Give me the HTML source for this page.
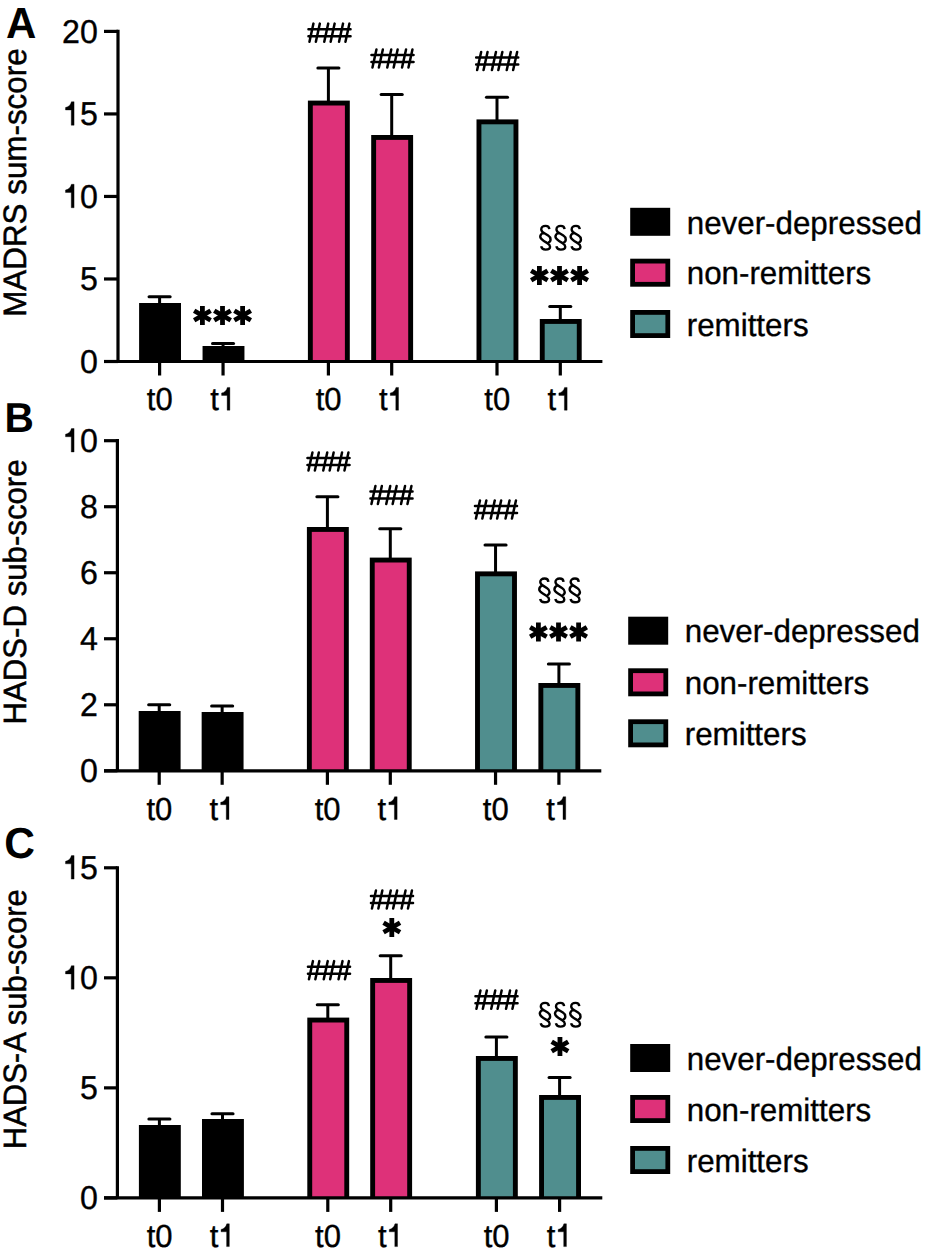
<!DOCTYPE html>
<html><head><meta charset="utf-8"><style>
html,body{margin:0;padding:0;background:#fff;}
svg{display:block;}
text{font-family:"Liberation Sans",sans-serif;fill:#000;text-rendering:geometricPrecision;}
</style></head><body>
<svg width="930" height="1253" viewBox="0 0 930 1253">
<rect width="930" height="1253" fill="#fff"/>
<line x1="118.00" y1="29.80" x2="118.00" y2="361.50" stroke="#000" stroke-width="3.2"/>
<line x1="104.00" y1="361.50" x2="118.00" y2="361.50" stroke="#000" stroke-width="3.2"/>
<text transform="translate(80.01,372.80) scale(0.975,1)" font-size="33.0" stroke="#000" stroke-width="0.35">0</text>
<line x1="104.00" y1="278.98" x2="118.00" y2="278.98" stroke="#000" stroke-width="3.2"/>
<text transform="translate(80.01,290.28) scale(0.975,1)" font-size="33.0" stroke="#000" stroke-width="0.35">5</text>
<line x1="104.00" y1="196.45" x2="118.00" y2="196.45" stroke="#000" stroke-width="3.2"/>
<path transform="translate(62.11,207.75) scale(32.175,-33.000)" d="M0.372,0 L0.284,0 L0.284,0.462 L0.105,0.462 L0.105,0.538 C0.2,0.555 0.262,0.61 0.29,0.712 L0.372,0.712 Z" stroke="#000" stroke-width="0.0106"/>
<text transform="translate(80.01,207.75) scale(0.975,1)" font-size="33.0" stroke="#000" stroke-width="0.35">0</text>
<line x1="104.00" y1="113.93" x2="118.00" y2="113.93" stroke="#000" stroke-width="3.2"/>
<path transform="translate(62.11,125.23) scale(32.175,-33.000)" d="M0.372,0 L0.284,0 L0.284,0.462 L0.105,0.462 L0.105,0.538 C0.2,0.555 0.262,0.61 0.29,0.712 L0.372,0.712 Z" stroke="#000" stroke-width="0.0106"/>
<text transform="translate(80.01,125.23) scale(0.975,1)" font-size="33.0" stroke="#000" stroke-width="0.35">5</text>
<line x1="104.00" y1="31.40" x2="118.00" y2="31.40" stroke="#000" stroke-width="3.2"/>
<text transform="translate(62.11,42.70) scale(0.975,1)" font-size="33.0" stroke="#000" stroke-width="0.35">2</text>
<text transform="translate(80.01,42.70) scale(0.975,1)" font-size="33.0" stroke="#000" stroke-width="0.35">0</text>
<line x1="159.60" y1="296.70" x2="159.60" y2="304.00" stroke="#000" stroke-width="3.0"/>
<line x1="149.10" y1="296.70" x2="170.10" y2="296.70" stroke="#000" stroke-width="3.1" stroke-linecap="round"/>
<rect x="139.10" y="303.00" width="41.90" height="58.50" fill="#000"/>
<line x1="159.60" y1="361.50" x2="159.60" y2="375.50" stroke="#000" stroke-width="3.2"/>
<text transform="translate(146.86,410.20) scale(0.97,1)" font-size="32.0" stroke="#000" stroke-width="0.35">t</text>
<text transform="translate(155.48,410.20) scale(0.97,1)" font-size="32.0" stroke="#000" stroke-width="0.35">0</text>
<line x1="223.05" y1="343.50" x2="223.05" y2="347.00" stroke="#000" stroke-width="3.0"/>
<line x1="212.55" y1="343.50" x2="233.55" y2="343.50" stroke="#000" stroke-width="3.1" stroke-linecap="round"/>
<rect x="202.55" y="346.00" width="41.90" height="15.50" fill="#000"/>
<line x1="223.05" y1="361.50" x2="223.05" y2="375.50" stroke="#000" stroke-width="3.2"/>
<text transform="translate(210.31,410.20) scale(0.97,1)" font-size="32.0" stroke="#000" stroke-width="0.35">t</text>
<path transform="translate(218.33,410.20) scale(31.040,-32.000)" d="M0.372,0 L0.284,0 L0.284,0.462 L0.105,0.462 L0.105,0.538 C0.2,0.555 0.262,0.61 0.29,0.712 L0.372,0.712 Z" stroke="#000" stroke-width="0.0109"/>
<line x1="328.40" y1="68.00" x2="328.40" y2="101.60" stroke="#000" stroke-width="3.0"/>
<line x1="317.90" y1="68.00" x2="338.90" y2="68.00" stroke="#000" stroke-width="3.1" stroke-linecap="round"/>
<rect x="307.90" y="100.60" width="41.90" height="260.90" fill="#000"/>
<rect x="312.80" y="105.50" width="32.10" height="256.00" fill="#de3179"/>
<line x1="328.40" y1="361.50" x2="328.40" y2="375.50" stroke="#000" stroke-width="3.2"/>
<text transform="translate(315.66,410.20) scale(0.97,1)" font-size="32.0" stroke="#000" stroke-width="0.35">t</text>
<text transform="translate(324.28,410.20) scale(0.97,1)" font-size="32.0" stroke="#000" stroke-width="0.35">0</text>
<line x1="391.70" y1="94.50" x2="391.70" y2="136.00" stroke="#000" stroke-width="3.0"/>
<line x1="381.20" y1="94.50" x2="402.20" y2="94.50" stroke="#000" stroke-width="3.1" stroke-linecap="round"/>
<rect x="371.20" y="135.00" width="41.90" height="226.50" fill="#000"/>
<rect x="376.10" y="139.90" width="32.10" height="221.60" fill="#de3179"/>
<line x1="391.70" y1="361.50" x2="391.70" y2="375.50" stroke="#000" stroke-width="3.2"/>
<text transform="translate(378.96,410.20) scale(0.97,1)" font-size="32.0" stroke="#000" stroke-width="0.35">t</text>
<path transform="translate(386.98,410.20) scale(31.040,-32.000)" d="M0.372,0 L0.284,0 L0.284,0.462 L0.105,0.462 L0.105,0.538 C0.2,0.555 0.262,0.61 0.29,0.712 L0.372,0.712 Z" stroke="#000" stroke-width="0.0109"/>
<line x1="497.00" y1="97.30" x2="497.00" y2="120.40" stroke="#000" stroke-width="3.0"/>
<line x1="486.50" y1="97.30" x2="507.50" y2="97.30" stroke="#000" stroke-width="3.1" stroke-linecap="round"/>
<rect x="476.50" y="119.40" width="41.90" height="242.10" fill="#000"/>
<rect x="481.40" y="124.30" width="32.10" height="237.20" fill="#508e8e"/>
<line x1="497.00" y1="361.50" x2="497.00" y2="375.50" stroke="#000" stroke-width="3.2"/>
<text transform="translate(484.26,410.20) scale(0.97,1)" font-size="32.0" stroke="#000" stroke-width="0.35">t</text>
<text transform="translate(492.88,410.20) scale(0.97,1)" font-size="32.0" stroke="#000" stroke-width="0.35">0</text>
<line x1="560.30" y1="306.50" x2="560.30" y2="320.00" stroke="#000" stroke-width="3.0"/>
<line x1="549.80" y1="306.50" x2="570.80" y2="306.50" stroke="#000" stroke-width="3.1" stroke-linecap="round"/>
<rect x="539.80" y="319.00" width="41.90" height="42.50" fill="#000"/>
<rect x="544.70" y="323.90" width="32.10" height="37.60" fill="#508e8e"/>
<line x1="560.30" y1="361.50" x2="560.30" y2="375.50" stroke="#000" stroke-width="3.2"/>
<text transform="translate(547.56,410.20) scale(0.97,1)" font-size="32.0" stroke="#000" stroke-width="0.35">t</text>
<path transform="translate(555.58,410.20) scale(31.040,-32.000)" d="M0.372,0 L0.284,0 L0.284,0.462 L0.105,0.462 L0.105,0.538 C0.2,0.555 0.262,0.61 0.29,0.712 L0.372,0.712 Z" stroke="#000" stroke-width="0.0109"/>
<line x1="104.00" y1="361.50" x2="602.40" y2="361.50" stroke="#000" stroke-width="3.2"/>
<text transform="translate(5.95,37.70) scale(0.9672,1)" font-size="43.46" font-weight="bold">A</text>
<text transform="translate(25.50,316.77) rotate(-90) scale(0.9680,1)" font-size="32.41" stroke="#000" stroke-width="0.5">MADRS sum-score</text>
<rect x="630.20" y="207.80" width="40.00" height="28.00" fill="#000"/>
<text transform="translate(686.72,233.50) scale(0.97,1)" font-size="32.3" stroke="#000" stroke-width="0.35">never-depressed</text>
<rect x="630.20" y="258.70" width="40.00" height="28.00" fill="#000"/>
<rect x="635.00" y="263.50" width="30.40" height="18.40" fill="#de3179"/>
<text transform="translate(686.72,284.40) scale(0.97,1)" font-size="32.3" stroke="#000" stroke-width="0.35">non-remitters</text>
<rect x="630.20" y="310.00" width="40.00" height="28.00" fill="#000"/>
<rect x="635.00" y="314.80" width="30.40" height="18.40" fill="#508e8e"/>
<text transform="translate(686.72,335.70) scale(0.97,1)" font-size="32.3" stroke="#000" stroke-width="0.35">remitters</text>
<path transform="translate(307.25,22.40)" d="M1.2,6.8 L43.3,6.8 M1.2,13.8 L43.3,13.8 M6.20,1.2 L2.20,19.4 M12.60,1.2 L8.60,19.4 M21.00,1.2 L17.00,19.4 M27.40,1.2 L23.40,19.4 M35.80,1.2 L31.80,19.4 M42.20,1.2 L38.20,19.4" fill="none" stroke="#000" stroke-width="2.5" stroke-linecap="round"/>
<path transform="translate(370.25,48.20)" d="M1.2,6.8 L43.3,6.8 M1.2,13.8 L43.3,13.8 M6.20,1.2 L2.20,19.4 M12.60,1.2 L8.60,19.4 M21.00,1.2 L17.00,19.4 M27.40,1.2 L23.40,19.4 M35.80,1.2 L31.80,19.4 M42.20,1.2 L38.20,19.4" fill="none" stroke="#000" stroke-width="2.5" stroke-linecap="round"/>
<path transform="translate(474.95,50.70)" d="M1.2,6.8 L43.3,6.8 M1.2,13.8 L43.3,13.8 M6.20,1.2 L2.20,19.4 M12.60,1.2 L8.60,19.4 M21.00,1.2 L17.00,19.4 M27.40,1.2 L23.40,19.4 M35.80,1.2 L31.80,19.4 M42.20,1.2 L38.20,19.4" fill="none" stroke="#000" stroke-width="2.5" stroke-linecap="round"/>
<path transform="translate(536.15,221.80)" d="M13.2,7.4 C13.0,5.1 11.2,4.09 9.45,4.09 C6.64,4.09 5.11,5.87 5.11,7.66 C5.11,9.71 6.9,10.73 8.68,11.75 L12.0,13.79 C13.6,14.8 14.4,16.2 14.4,17.7 C14.4,19.3 13.4,20.4 12.2,20.9 M7.15,10.98 C5.11,12.01 4.09,13.28 4.09,15.07 C4.09,16.86 5.62,17.88 7.66,19.16 L11.24,21.33 C13.0,22.4 13.92,23.5 13.92,25.03 C13.92,26.82 12.0,27.84 9.45,27.84 C6.9,27.84 5.36,26.31 4.98,24.52" fill="none" stroke="#000" stroke-width="2.4"/>
<path transform="translate(551.35,221.80)" d="M13.2,7.4 C13.0,5.1 11.2,4.09 9.45,4.09 C6.64,4.09 5.11,5.87 5.11,7.66 C5.11,9.71 6.9,10.73 8.68,11.75 L12.0,13.79 C13.6,14.8 14.4,16.2 14.4,17.7 C14.4,19.3 13.4,20.4 12.2,20.9 M7.15,10.98 C5.11,12.01 4.09,13.28 4.09,15.07 C4.09,16.86 5.62,17.88 7.66,19.16 L11.24,21.33 C13.0,22.4 13.92,23.5 13.92,25.03 C13.92,26.82 12.0,27.84 9.45,27.84 C6.9,27.84 5.36,26.31 4.98,24.52" fill="none" stroke="#000" stroke-width="2.4"/>
<path transform="translate(566.55,221.80)" d="M13.2,7.4 C13.0,5.1 11.2,4.09 9.45,4.09 C6.64,4.09 5.11,5.87 5.11,7.66 C5.11,9.71 6.9,10.73 8.68,11.75 L12.0,13.79 C13.6,14.8 14.4,16.2 14.4,17.7 C14.4,19.3 13.4,20.4 12.2,20.9 M7.15,10.98 C5.11,12.01 4.09,13.28 4.09,15.07 C4.09,16.86 5.62,17.88 7.66,19.16 L11.24,21.33 C13.0,22.4 13.92,23.5 13.92,25.03 C13.92,26.82 12.0,27.84 9.45,27.84 C6.9,27.84 5.36,26.31 4.98,24.52" fill="none" stroke="#000" stroke-width="2.4"/>
<g transform="translate(539.40,275.50)"><rect x="-2.4" y="-9.5" width="4.8" height="19"/><rect x="-2.4" y="-9.5" width="4.8" height="19" transform="rotate(60)"/><rect x="-2.4" y="-9.5" width="4.8" height="19" transform="rotate(120)"/></g>
<g transform="translate(559.50,275.50)"><rect x="-2.4" y="-9.5" width="4.8" height="19"/><rect x="-2.4" y="-9.5" width="4.8" height="19" transform="rotate(60)"/><rect x="-2.4" y="-9.5" width="4.8" height="19" transform="rotate(120)"/></g>
<g transform="translate(579.60,275.50)"><rect x="-2.4" y="-9.5" width="4.8" height="19"/><rect x="-2.4" y="-9.5" width="4.8" height="19" transform="rotate(60)"/><rect x="-2.4" y="-9.5" width="4.8" height="19" transform="rotate(120)"/></g>
<g transform="translate(202.40,315.50)"><rect x="-2.4" y="-9.5" width="4.8" height="19"/><rect x="-2.4" y="-9.5" width="4.8" height="19" transform="rotate(60)"/><rect x="-2.4" y="-9.5" width="4.8" height="19" transform="rotate(120)"/></g>
<g transform="translate(222.50,315.50)"><rect x="-2.4" y="-9.5" width="4.8" height="19"/><rect x="-2.4" y="-9.5" width="4.8" height="19" transform="rotate(60)"/><rect x="-2.4" y="-9.5" width="4.8" height="19" transform="rotate(120)"/></g>
<g transform="translate(242.60,315.50)"><rect x="-2.4" y="-9.5" width="4.8" height="19"/><rect x="-2.4" y="-9.5" width="4.8" height="19" transform="rotate(60)"/><rect x="-2.4" y="-9.5" width="4.8" height="19" transform="rotate(120)"/></g>
<line x1="117.40" y1="439.10" x2="117.40" y2="770.80" stroke="#000" stroke-width="3.2"/>
<line x1="104.00" y1="770.80" x2="117.40" y2="770.80" stroke="#000" stroke-width="3.2"/>
<text transform="translate(80.01,782.10) scale(0.975,1)" font-size="33.0" stroke="#000" stroke-width="0.35">0</text>
<line x1="104.00" y1="704.78" x2="117.40" y2="704.78" stroke="#000" stroke-width="3.2"/>
<text transform="translate(80.01,716.08) scale(0.975,1)" font-size="33.0" stroke="#000" stroke-width="0.35">2</text>
<line x1="104.00" y1="638.76" x2="117.40" y2="638.76" stroke="#000" stroke-width="3.2"/>
<text transform="translate(80.01,650.06) scale(0.975,1)" font-size="33.0" stroke="#000" stroke-width="0.35">4</text>
<line x1="104.00" y1="572.74" x2="117.40" y2="572.74" stroke="#000" stroke-width="3.2"/>
<text transform="translate(80.01,584.04) scale(0.975,1)" font-size="33.0" stroke="#000" stroke-width="0.35">6</text>
<line x1="104.00" y1="506.72" x2="117.40" y2="506.72" stroke="#000" stroke-width="3.2"/>
<text transform="translate(80.01,518.02) scale(0.975,1)" font-size="33.0" stroke="#000" stroke-width="0.35">8</text>
<line x1="104.00" y1="440.70" x2="117.40" y2="440.70" stroke="#000" stroke-width="3.2"/>
<path transform="translate(62.11,452.00) scale(32.175,-33.000)" d="M0.372,0 L0.284,0 L0.284,0.462 L0.105,0.462 L0.105,0.538 C0.2,0.555 0.262,0.61 0.29,0.712 L0.372,0.712 Z" stroke="#000" stroke-width="0.0106"/>
<text transform="translate(80.01,452.00) scale(0.975,1)" font-size="33.0" stroke="#000" stroke-width="0.35">0</text>
<line x1="159.20" y1="704.70" x2="159.20" y2="712.00" stroke="#000" stroke-width="3.0"/>
<line x1="148.70" y1="704.70" x2="169.70" y2="704.70" stroke="#000" stroke-width="3.1" stroke-linecap="round"/>
<rect x="138.70" y="711.00" width="41.90" height="59.80" fill="#000"/>
<line x1="159.20" y1="770.80" x2="159.20" y2="784.80" stroke="#000" stroke-width="3.2"/>
<text transform="translate(146.46,819.50) scale(0.97,1)" font-size="32.0" stroke="#000" stroke-width="0.35">t</text>
<text transform="translate(155.08,819.50) scale(0.97,1)" font-size="32.0" stroke="#000" stroke-width="0.35">0</text>
<line x1="222.15" y1="706.00" x2="222.15" y2="713.00" stroke="#000" stroke-width="3.0"/>
<line x1="211.65" y1="706.00" x2="232.65" y2="706.00" stroke="#000" stroke-width="3.1" stroke-linecap="round"/>
<rect x="201.65" y="712.00" width="41.90" height="58.80" fill="#000"/>
<line x1="222.15" y1="770.80" x2="222.15" y2="784.80" stroke="#000" stroke-width="3.2"/>
<text transform="translate(209.41,819.50) scale(0.97,1)" font-size="32.0" stroke="#000" stroke-width="0.35">t</text>
<path transform="translate(217.43,819.50) scale(31.040,-32.000)" d="M0.372,0 L0.284,0 L0.284,0.462 L0.105,0.462 L0.105,0.538 C0.2,0.555 0.262,0.61 0.29,0.712 L0.372,0.712 Z" stroke="#000" stroke-width="0.0109"/>
<line x1="327.40" y1="496.70" x2="327.40" y2="528.00" stroke="#000" stroke-width="3.0"/>
<line x1="316.90" y1="496.70" x2="337.90" y2="496.70" stroke="#000" stroke-width="3.1" stroke-linecap="round"/>
<rect x="306.90" y="527.00" width="41.90" height="243.80" fill="#000"/>
<rect x="311.80" y="531.90" width="32.10" height="238.90" fill="#de3179"/>
<line x1="327.40" y1="770.80" x2="327.40" y2="784.80" stroke="#000" stroke-width="3.2"/>
<text transform="translate(314.66,819.50) scale(0.97,1)" font-size="32.0" stroke="#000" stroke-width="0.35">t</text>
<text transform="translate(323.28,819.50) scale(0.97,1)" font-size="32.0" stroke="#000" stroke-width="0.35">0</text>
<line x1="390.30" y1="528.70" x2="390.30" y2="558.60" stroke="#000" stroke-width="3.0"/>
<line x1="379.80" y1="528.70" x2="400.80" y2="528.70" stroke="#000" stroke-width="3.1" stroke-linecap="round"/>
<rect x="369.80" y="557.60" width="41.90" height="213.20" fill="#000"/>
<rect x="374.70" y="562.50" width="32.10" height="208.30" fill="#de3179"/>
<line x1="390.30" y1="770.80" x2="390.30" y2="784.80" stroke="#000" stroke-width="3.2"/>
<text transform="translate(377.56,819.50) scale(0.97,1)" font-size="32.0" stroke="#000" stroke-width="0.35">t</text>
<path transform="translate(385.58,819.50) scale(31.040,-32.000)" d="M0.372,0 L0.284,0 L0.284,0.462 L0.105,0.462 L0.105,0.538 C0.2,0.555 0.262,0.61 0.29,0.712 L0.372,0.712 Z" stroke="#000" stroke-width="0.0109"/>
<line x1="495.55" y1="545.00" x2="495.55" y2="572.40" stroke="#000" stroke-width="3.0"/>
<line x1="485.05" y1="545.00" x2="506.05" y2="545.00" stroke="#000" stroke-width="3.1" stroke-linecap="round"/>
<rect x="475.05" y="571.40" width="41.90" height="199.40" fill="#000"/>
<rect x="479.95" y="576.30" width="32.10" height="194.50" fill="#508e8e"/>
<line x1="495.55" y1="770.80" x2="495.55" y2="784.80" stroke="#000" stroke-width="3.2"/>
<text transform="translate(482.81,819.50) scale(0.97,1)" font-size="32.0" stroke="#000" stroke-width="0.35">t</text>
<text transform="translate(491.43,819.50) scale(0.97,1)" font-size="32.0" stroke="#000" stroke-width="0.35">0</text>
<line x1="558.90" y1="664.00" x2="558.90" y2="684.00" stroke="#000" stroke-width="3.0"/>
<line x1="548.40" y1="664.00" x2="569.40" y2="664.00" stroke="#000" stroke-width="3.1" stroke-linecap="round"/>
<rect x="538.40" y="683.00" width="41.90" height="87.80" fill="#000"/>
<rect x="543.30" y="687.90" width="32.10" height="82.90" fill="#508e8e"/>
<line x1="558.90" y1="770.80" x2="558.90" y2="784.80" stroke="#000" stroke-width="3.2"/>
<text transform="translate(546.16,819.50) scale(0.97,1)" font-size="32.0" stroke="#000" stroke-width="0.35">t</text>
<path transform="translate(554.18,819.50) scale(31.040,-32.000)" d="M0.372,0 L0.284,0 L0.284,0.462 L0.105,0.462 L0.105,0.538 C0.2,0.555 0.262,0.61 0.29,0.712 L0.372,0.712 Z" stroke="#000" stroke-width="0.0109"/>
<line x1="104.00" y1="770.80" x2="601.30" y2="770.80" stroke="#000" stroke-width="3.2"/>
<text transform="translate(4.38,431.90) scale(0.9714,1)" font-size="41.86" font-weight="bold">B</text>
<text transform="translate(25.50,724.56) rotate(-90) scale(0.9665,1)" font-size="32.27" stroke="#000" stroke-width="0.5">HADS-D sub-score</text>
<rect x="628.20" y="616.70" width="40.00" height="28.00" fill="#000"/>
<text transform="translate(684.72,642.40) scale(0.97,1)" font-size="32.3" stroke="#000" stroke-width="0.35">never-depressed</text>
<rect x="628.20" y="668.30" width="40.00" height="28.00" fill="#000"/>
<rect x="633.00" y="673.10" width="30.40" height="18.40" fill="#de3179"/>
<text transform="translate(684.72,694.00) scale(0.97,1)" font-size="32.3" stroke="#000" stroke-width="0.35">non-remitters</text>
<rect x="628.20" y="719.30" width="40.00" height="28.00" fill="#000"/>
<rect x="633.00" y="724.10" width="30.40" height="18.40" fill="#508e8e"/>
<text transform="translate(684.72,745.00) scale(0.97,1)" font-size="32.3" stroke="#000" stroke-width="0.35">remitters</text>
<path transform="translate(306.25,451.20)" d="M1.2,6.8 L43.3,6.8 M1.2,13.8 L43.3,13.8 M6.20,1.2 L2.20,19.4 M12.60,1.2 L8.60,19.4 M21.00,1.2 L17.00,19.4 M27.40,1.2 L23.40,19.4 M35.80,1.2 L31.80,19.4 M42.20,1.2 L38.20,19.4" fill="none" stroke="#000" stroke-width="2.5" stroke-linecap="round"/>
<path transform="translate(369.25,484.70)" d="M1.2,6.8 L43.3,6.8 M1.2,13.8 L43.3,13.8 M6.20,1.2 L2.20,19.4 M12.60,1.2 L8.60,19.4 M21.00,1.2 L17.00,19.4 M27.40,1.2 L23.40,19.4 M35.80,1.2 L31.80,19.4 M42.20,1.2 L38.20,19.4" fill="none" stroke="#000" stroke-width="2.5" stroke-linecap="round"/>
<path transform="translate(473.75,499.20)" d="M1.2,6.8 L43.3,6.8 M1.2,13.8 L43.3,13.8 M6.20,1.2 L2.20,19.4 M12.60,1.2 L8.60,19.4 M21.00,1.2 L17.00,19.4 M27.40,1.2 L23.40,19.4 M35.80,1.2 L31.80,19.4 M42.20,1.2 L38.20,19.4" fill="none" stroke="#000" stroke-width="2.5" stroke-linecap="round"/>
<path transform="translate(535.15,574.40)" d="M13.2,7.4 C13.0,5.1 11.2,4.09 9.45,4.09 C6.64,4.09 5.11,5.87 5.11,7.66 C5.11,9.71 6.9,10.73 8.68,11.75 L12.0,13.79 C13.6,14.8 14.4,16.2 14.4,17.7 C14.4,19.3 13.4,20.4 12.2,20.9 M7.15,10.98 C5.11,12.01 4.09,13.28 4.09,15.07 C4.09,16.86 5.62,17.88 7.66,19.16 L11.24,21.33 C13.0,22.4 13.92,23.5 13.92,25.03 C13.92,26.82 12.0,27.84 9.45,27.84 C6.9,27.84 5.36,26.31 4.98,24.52" fill="none" stroke="#000" stroke-width="2.4"/>
<path transform="translate(550.35,574.40)" d="M13.2,7.4 C13.0,5.1 11.2,4.09 9.45,4.09 C6.64,4.09 5.11,5.87 5.11,7.66 C5.11,9.71 6.9,10.73 8.68,11.75 L12.0,13.79 C13.6,14.8 14.4,16.2 14.4,17.7 C14.4,19.3 13.4,20.4 12.2,20.9 M7.15,10.98 C5.11,12.01 4.09,13.28 4.09,15.07 C4.09,16.86 5.62,17.88 7.66,19.16 L11.24,21.33 C13.0,22.4 13.92,23.5 13.92,25.03 C13.92,26.82 12.0,27.84 9.45,27.84 C6.9,27.84 5.36,26.31 4.98,24.52" fill="none" stroke="#000" stroke-width="2.4"/>
<path transform="translate(565.55,574.40)" d="M13.2,7.4 C13.0,5.1 11.2,4.09 9.45,4.09 C6.64,4.09 5.11,5.87 5.11,7.66 C5.11,9.71 6.9,10.73 8.68,11.75 L12.0,13.79 C13.6,14.8 14.4,16.2 14.4,17.7 C14.4,19.3 13.4,20.4 12.2,20.9 M7.15,10.98 C5.11,12.01 4.09,13.28 4.09,15.07 C4.09,16.86 5.62,17.88 7.66,19.16 L11.24,21.33 C13.0,22.4 13.92,23.5 13.92,25.03 C13.92,26.82 12.0,27.84 9.45,27.84 C6.9,27.84 5.36,26.31 4.98,24.52" fill="none" stroke="#000" stroke-width="2.4"/>
<g transform="translate(538.40,632.00)"><rect x="-2.4" y="-9.5" width="4.8" height="19"/><rect x="-2.4" y="-9.5" width="4.8" height="19" transform="rotate(60)"/><rect x="-2.4" y="-9.5" width="4.8" height="19" transform="rotate(120)"/></g>
<g transform="translate(558.50,632.00)"><rect x="-2.4" y="-9.5" width="4.8" height="19"/><rect x="-2.4" y="-9.5" width="4.8" height="19" transform="rotate(60)"/><rect x="-2.4" y="-9.5" width="4.8" height="19" transform="rotate(120)"/></g>
<g transform="translate(578.60,632.00)"><rect x="-2.4" y="-9.5" width="4.8" height="19"/><rect x="-2.4" y="-9.5" width="4.8" height="19" transform="rotate(60)"/><rect x="-2.4" y="-9.5" width="4.8" height="19" transform="rotate(120)"/></g>
<line x1="117.40" y1="866.20" x2="117.40" y2="1197.90" stroke="#000" stroke-width="3.2"/>
<line x1="104.00" y1="1197.90" x2="117.40" y2="1197.90" stroke="#000" stroke-width="3.2"/>
<text transform="translate(80.01,1209.20) scale(0.975,1)" font-size="33.0" stroke="#000" stroke-width="0.35">0</text>
<line x1="104.00" y1="1087.87" x2="117.40" y2="1087.87" stroke="#000" stroke-width="3.2"/>
<text transform="translate(80.01,1099.17) scale(0.975,1)" font-size="33.0" stroke="#000" stroke-width="0.35">5</text>
<line x1="104.00" y1="977.83" x2="117.40" y2="977.83" stroke="#000" stroke-width="3.2"/>
<path transform="translate(62.11,989.13) scale(32.175,-33.000)" d="M0.372,0 L0.284,0 L0.284,0.462 L0.105,0.462 L0.105,0.538 C0.2,0.555 0.262,0.61 0.29,0.712 L0.372,0.712 Z" stroke="#000" stroke-width="0.0106"/>
<text transform="translate(80.01,989.13) scale(0.975,1)" font-size="33.0" stroke="#000" stroke-width="0.35">0</text>
<line x1="104.00" y1="867.80" x2="117.40" y2="867.80" stroke="#000" stroke-width="3.2"/>
<path transform="translate(62.11,879.10) scale(32.175,-33.000)" d="M0.372,0 L0.284,0 L0.284,0.462 L0.105,0.462 L0.105,0.538 C0.2,0.555 0.262,0.61 0.29,0.712 L0.372,0.712 Z" stroke="#000" stroke-width="0.0106"/>
<text transform="translate(80.01,879.10) scale(0.975,1)" font-size="33.0" stroke="#000" stroke-width="0.35">5</text>
<line x1="159.40" y1="1119.00" x2="159.40" y2="1126.00" stroke="#000" stroke-width="3.0"/>
<line x1="148.90" y1="1119.00" x2="169.90" y2="1119.00" stroke="#000" stroke-width="3.1" stroke-linecap="round"/>
<rect x="138.90" y="1125.00" width="41.90" height="72.90" fill="#000"/>
<line x1="159.40" y1="1197.90" x2="159.40" y2="1211.90" stroke="#000" stroke-width="3.2"/>
<text transform="translate(146.66,1246.60) scale(0.97,1)" font-size="32.0" stroke="#000" stroke-width="0.35">t</text>
<text transform="translate(155.28,1246.60) scale(0.97,1)" font-size="32.0" stroke="#000" stroke-width="0.35">0</text>
<line x1="222.50" y1="1113.70" x2="222.50" y2="1120.00" stroke="#000" stroke-width="3.0"/>
<line x1="212.00" y1="1113.70" x2="233.00" y2="1113.70" stroke="#000" stroke-width="3.1" stroke-linecap="round"/>
<rect x="202.00" y="1119.00" width="41.90" height="78.90" fill="#000"/>
<line x1="222.50" y1="1197.90" x2="222.50" y2="1211.90" stroke="#000" stroke-width="3.2"/>
<text transform="translate(209.76,1246.60) scale(0.97,1)" font-size="32.0" stroke="#000" stroke-width="0.35">t</text>
<path transform="translate(217.78,1246.60) scale(31.040,-32.000)" d="M0.372,0 L0.284,0 L0.284,0.462 L0.105,0.462 L0.105,0.538 C0.2,0.555 0.262,0.61 0.29,0.712 L0.372,0.712 Z" stroke="#000" stroke-width="0.0109"/>
<line x1="327.80" y1="1004.70" x2="327.80" y2="1018.60" stroke="#000" stroke-width="3.0"/>
<line x1="317.30" y1="1004.70" x2="338.30" y2="1004.70" stroke="#000" stroke-width="3.1" stroke-linecap="round"/>
<rect x="307.30" y="1017.60" width="41.90" height="180.30" fill="#000"/>
<rect x="312.20" y="1022.50" width="32.10" height="175.40" fill="#de3179"/>
<line x1="327.80" y1="1197.90" x2="327.80" y2="1211.90" stroke="#000" stroke-width="3.2"/>
<text transform="translate(315.06,1246.60) scale(0.97,1)" font-size="32.0" stroke="#000" stroke-width="0.35">t</text>
<text transform="translate(323.68,1246.60) scale(0.97,1)" font-size="32.0" stroke="#000" stroke-width="0.35">0</text>
<line x1="390.70" y1="955.70" x2="390.70" y2="979.00" stroke="#000" stroke-width="3.0"/>
<line x1="380.20" y1="955.70" x2="401.20" y2="955.70" stroke="#000" stroke-width="3.1" stroke-linecap="round"/>
<rect x="370.20" y="978.00" width="41.90" height="219.90" fill="#000"/>
<rect x="375.10" y="982.90" width="32.10" height="215.00" fill="#de3179"/>
<line x1="390.70" y1="1197.90" x2="390.70" y2="1211.90" stroke="#000" stroke-width="3.2"/>
<text transform="translate(377.96,1246.60) scale(0.97,1)" font-size="32.0" stroke="#000" stroke-width="0.35">t</text>
<path transform="translate(385.98,1246.60) scale(31.040,-32.000)" d="M0.372,0 L0.284,0 L0.284,0.462 L0.105,0.462 L0.105,0.538 C0.2,0.555 0.262,0.61 0.29,0.712 L0.372,0.712 Z" stroke="#000" stroke-width="0.0109"/>
<line x1="496.40" y1="1037.00" x2="496.40" y2="1057.00" stroke="#000" stroke-width="3.0"/>
<line x1="485.90" y1="1037.00" x2="506.90" y2="1037.00" stroke="#000" stroke-width="3.1" stroke-linecap="round"/>
<rect x="475.90" y="1056.00" width="41.90" height="141.90" fill="#000"/>
<rect x="480.80" y="1060.90" width="32.10" height="137.00" fill="#508e8e"/>
<line x1="496.40" y1="1197.90" x2="496.40" y2="1211.90" stroke="#000" stroke-width="3.2"/>
<text transform="translate(483.66,1246.60) scale(0.97,1)" font-size="32.0" stroke="#000" stroke-width="0.35">t</text>
<text transform="translate(492.28,1246.60) scale(0.97,1)" font-size="32.0" stroke="#000" stroke-width="0.35">0</text>
<line x1="559.60" y1="1077.50" x2="559.60" y2="1096.00" stroke="#000" stroke-width="3.0"/>
<line x1="549.10" y1="1077.50" x2="570.10" y2="1077.50" stroke="#000" stroke-width="3.1" stroke-linecap="round"/>
<rect x="539.10" y="1095.00" width="41.90" height="102.90" fill="#000"/>
<rect x="544.00" y="1099.90" width="32.10" height="98.00" fill="#508e8e"/>
<line x1="559.60" y1="1197.90" x2="559.60" y2="1211.90" stroke="#000" stroke-width="3.2"/>
<text transform="translate(546.86,1246.60) scale(0.97,1)" font-size="32.0" stroke="#000" stroke-width="0.35">t</text>
<path transform="translate(554.88,1246.60) scale(31.040,-32.000)" d="M0.372,0 L0.284,0 L0.284,0.462 L0.105,0.462 L0.105,0.538 C0.2,0.555 0.262,0.61 0.29,0.712 L0.372,0.712 Z" stroke="#000" stroke-width="0.0109"/>
<line x1="104.00" y1="1197.90" x2="602.30" y2="1197.90" stroke="#000" stroke-width="3.2"/>
<text transform="translate(4.36,858.48) scale(0.9774,1)" font-size="43.50" font-weight="bold">C</text>
<text transform="translate(25.50,1149.14) rotate(-90) scale(0.9595,1)" font-size="32.27" stroke="#000" stroke-width="0.5">HADS-A sub-score</text>
<rect x="630.20" y="1044.00" width="40.00" height="28.00" fill="#000"/>
<text transform="translate(686.72,1069.70) scale(0.97,1)" font-size="32.3" stroke="#000" stroke-width="0.35">never-depressed</text>
<rect x="630.20" y="1095.00" width="40.00" height="28.00" fill="#000"/>
<rect x="635.00" y="1099.80" width="30.40" height="18.40" fill="#de3179"/>
<text transform="translate(686.72,1120.70) scale(0.97,1)" font-size="32.3" stroke="#000" stroke-width="0.35">non-remitters</text>
<rect x="630.20" y="1146.00" width="40.00" height="28.00" fill="#000"/>
<rect x="635.00" y="1150.80" width="30.40" height="18.40" fill="#508e8e"/>
<text transform="translate(686.72,1171.70) scale(0.97,1)" font-size="32.3" stroke="#000" stroke-width="0.35">remitters</text>
<path transform="translate(306.75,959.90)" d="M1.2,6.8 L43.3,6.8 M1.2,13.8 L43.3,13.8 M6.20,1.2 L2.20,19.4 M12.60,1.2 L8.60,19.4 M21.00,1.2 L17.00,19.4 M27.40,1.2 L23.40,19.4 M35.80,1.2 L31.80,19.4 M42.20,1.2 L38.20,19.4" fill="none" stroke="#000" stroke-width="2.5" stroke-linecap="round"/>
<path transform="translate(369.75,889.20)" d="M1.2,6.8 L43.3,6.8 M1.2,13.8 L43.3,13.8 M6.20,1.2 L2.20,19.4 M12.60,1.2 L8.60,19.4 M21.00,1.2 L17.00,19.4 M27.40,1.2 L23.40,19.4 M35.80,1.2 L31.80,19.4 M42.20,1.2 L38.20,19.4" fill="none" stroke="#000" stroke-width="2.5" stroke-linecap="round"/>
<g transform="translate(391.80,927.50)"><rect x="-2.4" y="-9.5" width="4.8" height="19"/><rect x="-2.4" y="-9.5" width="4.8" height="19" transform="rotate(60)"/><rect x="-2.4" y="-9.5" width="4.8" height="19" transform="rotate(120)"/></g>
<path transform="translate(474.25,989.35)" d="M1.2,6.8 L43.3,6.8 M1.2,13.8 L43.3,13.8 M6.20,1.2 L2.20,19.4 M12.60,1.2 L8.60,19.4 M21.00,1.2 L17.00,19.4 M27.40,1.2 L23.40,19.4 M35.80,1.2 L31.80,19.4 M42.20,1.2 L38.20,19.4" fill="none" stroke="#000" stroke-width="2.5" stroke-linecap="round"/>
<path transform="translate(535.70,998.80)" d="M13.2,7.4 C13.0,5.1 11.2,4.09 9.45,4.09 C6.64,4.09 5.11,5.87 5.11,7.66 C5.11,9.71 6.9,10.73 8.68,11.75 L12.0,13.79 C13.6,14.8 14.4,16.2 14.4,17.7 C14.4,19.3 13.4,20.4 12.2,20.9 M7.15,10.98 C5.11,12.01 4.09,13.28 4.09,15.07 C4.09,16.86 5.62,17.88 7.66,19.16 L11.24,21.33 C13.0,22.4 13.92,23.5 13.92,25.03 C13.92,26.82 12.0,27.84 9.45,27.84 C6.9,27.84 5.36,26.31 4.98,24.52" fill="none" stroke="#000" stroke-width="2.4"/>
<path transform="translate(550.90,998.80)" d="M13.2,7.4 C13.0,5.1 11.2,4.09 9.45,4.09 C6.64,4.09 5.11,5.87 5.11,7.66 C5.11,9.71 6.9,10.73 8.68,11.75 L12.0,13.79 C13.6,14.8 14.4,16.2 14.4,17.7 C14.4,19.3 13.4,20.4 12.2,20.9 M7.15,10.98 C5.11,12.01 4.09,13.28 4.09,15.07 C4.09,16.86 5.62,17.88 7.66,19.16 L11.24,21.33 C13.0,22.4 13.92,23.5 13.92,25.03 C13.92,26.82 12.0,27.84 9.45,27.84 C6.9,27.84 5.36,26.31 4.98,24.52" fill="none" stroke="#000" stroke-width="2.4"/>
<path transform="translate(566.10,998.80)" d="M13.2,7.4 C13.0,5.1 11.2,4.09 9.45,4.09 C6.64,4.09 5.11,5.87 5.11,7.66 C5.11,9.71 6.9,10.73 8.68,11.75 L12.0,13.79 C13.6,14.8 14.4,16.2 14.4,17.7 C14.4,19.3 13.4,20.4 12.2,20.9 M7.15,10.98 C5.11,12.01 4.09,13.28 4.09,15.07 C4.09,16.86 5.62,17.88 7.66,19.16 L11.24,21.33 C13.0,22.4 13.92,23.5 13.92,25.03 C13.92,26.82 12.0,27.84 9.45,27.84 C6.9,27.84 5.36,26.31 4.98,24.52" fill="none" stroke="#000" stroke-width="2.4"/>
<g transform="translate(559.95,1046.50)"><rect x="-2.4" y="-9.5" width="4.8" height="19"/><rect x="-2.4" y="-9.5" width="4.8" height="19" transform="rotate(60)"/><rect x="-2.4" y="-9.5" width="4.8" height="19" transform="rotate(120)"/></g>
</svg></body></html>
